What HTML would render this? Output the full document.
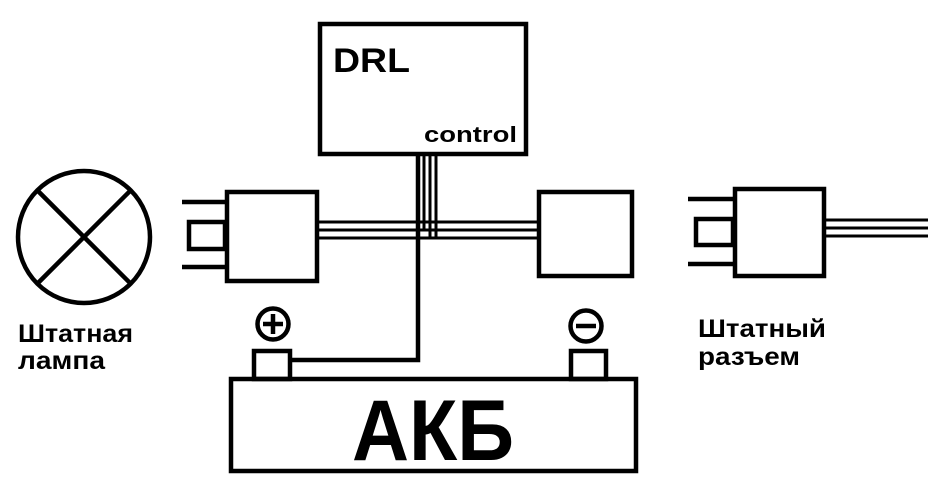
<!DOCTYPE html>
<html><head><meta charset="utf-8"><style>html,body{margin:0;padding:0;background:#fff}svg{display:block}</style></head>
<body>
<svg width="949" height="499" viewBox="0 0 949 499" xmlns="http://www.w3.org/2000/svg">
<g fill="none" stroke="#000" stroke-width="4.5">
<circle cx="84" cy="237" r="66"/>
<line x1="37" y1="190" x2="131" y2="284"/>
<line x1="131" y1="190" x2="37" y2="284"/>
<rect x="320" y="24" width="206" height="130"/>
<rect x="227" y="192" width="90" height="89"/>
<rect x="189" y="222" width="36" height="27"/>
<line x1="182" y1="202" x2="227" y2="202"/>
<line x1="182" y1="267" x2="227" y2="267"/>
<rect x="539" y="192" width="93" height="84"/>
<rect x="735" y="189" width="89" height="87"/>
<rect x="696" y="219" width="37" height="26"/>
<line x1="688" y1="199" x2="735" y2="199"/>
<line x1="688" y1="264" x2="735" y2="264"/>
<rect x="231" y="379" width="405" height="92"/>
<rect x="254" y="351" width="36" height="28"/>
<rect x="571" y="351" width="35" height="28"/>
<circle cx="273" cy="324" r="15.5"/>
<circle cx="586" cy="326" r="15.5"/>
</g>
<g stroke="#000" stroke-width="3">
<line x1="318" y1="222" x2="539" y2="222"/>
<line x1="318" y1="230" x2="539" y2="230"/>
<line x1="318" y1="238" x2="539" y2="238"/>
<line x1="824" y1="220" x2="928" y2="220"/>
<line x1="824" y1="228" x2="928" y2="228"/>
<line x1="824" y1="236" x2="928" y2="236"/>
<line x1="424" y1="155" x2="424" y2="230"/>
<line x1="430" y1="155" x2="430" y2="238"/>
<line x1="436" y1="155" x2="436" y2="239"/>
</g>
<g stroke="#000" stroke-width="4.5" fill="none">
<polyline points="418,155 418,360 290,360"/>
<line x1="273" y1="314" x2="273" y2="334"/>
<line x1="263" y1="324" x2="283" y2="324"/>
<line x1="576" y1="326" x2="596" y2="326"/>
</g>
<g font-family="Liberation Sans, DejaVu Sans, sans-serif" font-weight="bold" fill="#000">
<text x="333" y="72" font-size="34" textLength="77" lengthAdjust="spacingAndGlyphs">DRL</text>
<text x="424" y="142" font-size="22" textLength="93" lengthAdjust="spacingAndGlyphs">control</text>
<text x="18" y="342" font-size="25" textLength="115" lengthAdjust="spacingAndGlyphs">Штатная</text>
<text x="18" y="369" font-size="25" textLength="87" lengthAdjust="spacingAndGlyphs">лампа</text>
<text x="698" y="337" font-size="25" textLength="128" lengthAdjust="spacingAndGlyphs">Штатный</text>
<text x="698" y="365" font-size="25" textLength="102" lengthAdjust="spacingAndGlyphs">разъем</text>
<text x="352" y="460" font-size="86" textLength="162" lengthAdjust="spacingAndGlyphs">АКБ</text>
</g>
</svg>
</body></html>
